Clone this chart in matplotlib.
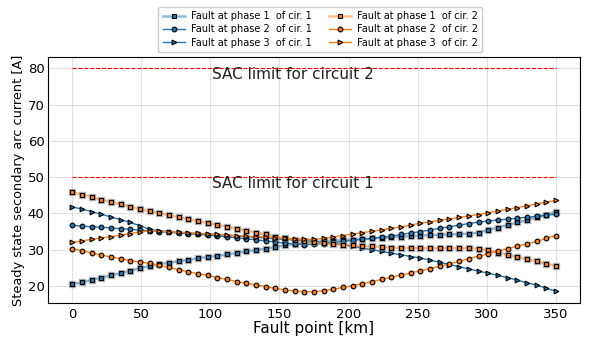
import numpy as np
import matplotlib
matplotlib.use("Agg")
import matplotlib.pyplot as plt
from matplotlib.legend_handler import HandlerTuple

fault_km = [0, 7, 14, 21, 28, 35, 42, 49, 56, 63, 70, 77, 84, 91, 98, 105, 112, 119, 126, 133,
            140, 147, 154, 161, 168, 175, 182, 189, 196, 203, 210, 217, 224, 231, 238, 245, 252,
            259, 266, 273, 280, 287, 294, 301, 308, 315, 322, 329, 336, 343, 350]

c1_p1 = [20.5, 21.0, 21.6, 22.3, 22.9, 23.5, 24.2, 24.9, 25.5, 26.0, 26.4, 26.8, 27.2, 27.6, 28.0,
         28.3, 28.7, 29.1, 29.5, 29.9, 30.3, 30.7, 31.2, 31.6, 31.9, 32.1, 32.3, 32.5, 32.7, 32.8,
         32.9, 33.1, 33.3, 33.4, 33.6, 33.7, 33.9, 34.0, 34.1, 34.2, 34.3, 34.4, 34.7, 35.4, 36.1,
         36.8, 37.5, 38.1, 38.9, 39.7, 40.4]
c1_p2 = [36.7, 36.5, 36.3, 36.2, 36.0, 35.8, 35.6, 35.4, 35.2, 35.0, 34.8, 34.6, 34.4, 34.2, 34.0,
         33.8, 33.5, 33.3, 33.0, 32.7, 32.4, 32.1, 31.8, 31.6, 31.4, 31.5, 31.7, 32.0, 32.3, 32.6,
         32.9, 33.1, 33.4, 33.7, 34.2, 34.6, 35.0, 35.4, 35.9, 36.3, 36.8, 37.2, 37.6, 37.9, 38.2,
         38.4, 38.7, 38.95, 39.2, 39.5, 39.8]
c1_p3 = [41.8, 41.2, 40.5, 39.8, 39.0, 38.3, 37.5, 36.6, 35.6, 35.2, 35.0, 34.8, 34.6, 34.45, 34.3,
         34.15, 34.0, 33.8, 33.6, 33.4, 33.2, 33.0, 32.8, 32.7, 32.5, 32.3, 32.1, 31.8, 31.4, 30.9,
         30.4, 30.0, 29.5, 29.0, 28.6, 28.1, 27.7, 27.1, 26.5, 25.9, 25.3, 24.7, 24.1, 23.5, 22.9,
         22.3, 21.6, 20.9, 20.2, 19.4, 18.5]
c2_p1 = [45.9, 45.2, 44.5, 43.8, 43.2, 42.5, 41.9, 41.2, 40.6, 40.1, 39.5, 39.0, 38.4, 37.9, 37.4,
         36.8, 36.3, 35.8, 35.2, 34.7, 34.2, 33.6, 33.2, 32.8, 32.4, 32.1, 31.8, 31.5, 31.3, 31.2,
         31.0, 30.9, 30.8, 30.6, 30.5, 30.5, 30.4, 30.4, 30.4, 30.4, 30.4, 30.4, 30.3, 29.8, 29.2,
         28.6, 28.0, 27.4, 26.8, 26.1, 25.5]
c2_p2 = [30.3, 29.7, 29.1, 28.5, 28.0, 27.5, 27.0, 26.6, 26.2, 25.7, 25.1, 24.5, 23.9, 23.4, 22.9,
         22.3, 21.8, 21.2, 20.7, 20.3, 19.8, 19.3, 18.9, 18.6, 18.4, 18.4, 18.7, 19.1, 19.6, 20.1,
         20.6, 21.2, 21.8, 22.4, 23.0, 23.6, 24.2, 24.8, 25.4, 26.1, 26.8, 27.5, 28.2, 28.9, 29.6,
         30.3, 31.0, 31.6, 32.3, 33.1, 33.9]
c2_p3 = [32.0, 32.4, 32.85, 33.25, 33.6, 34.0, 34.45, 34.9, 35.2, 35.1, 34.95, 34.8, 34.65, 34.5, 34.35,
         34.2, 34.05, 33.9, 33.75, 33.6, 33.45, 33.3, 33.15, 33.0, 32.9, 32.85, 33.1, 33.5, 33.9, 34.3,
         34.7, 35.1, 35.5, 35.9, 36.3, 36.8, 37.3, 37.7, 38.1, 38.5, 38.9, 39.3, 39.7, 40.2, 40.7,
         41.2, 41.6, 42.1, 42.6, 43.1, 43.6]

labels = ["Fault at phase 1  of cir. 1", "Fault at phase 2  of cir. 1", "Fault at phase 3  of cir. 1",
          "Fault at phase 1  of cir. 2", "Fault at phase 2  of cir. 2", "Fault at phase 3  of cir. 2"]
sac_limits = [50, 80]
sac_texts = ["SAC limit for circuit 1", "SAC limit for circuit 2"]

blue = "#1f77b4"
orange = "#ff7f0e"

fig = plt.figure(figsize=(6.03, 3.38), dpi=100)
ax = fig.add_axes([0.0796, 0.1036, 0.8824, 0.7274])

series = [(c1_p1, blue, "s", True), (c1_p2, blue, "o", False), (c1_p3, blue, ">", False),
          (c2_p1, orange, "s", True), (c2_p2, orange, "o", False), (c2_p3, orange, ">", False)]
handles = []
for (y, c, m, light) in series:
    if light:
        l1, = ax.plot(fault_km, y, color=c, lw=1.8, alpha=0.5)
        ax.plot(fault_km, y, ls="none", marker=m, ms=4.6, mfc="none", mec="gray",
                mew=1.0, alpha=0.6)
        l2, = ax.plot(fault_km, y, ls="none", marker=m, ms=3.4, mfc=c, mec="black", mew=0.8)
        handles.append((l1, l2))
    else:
        l, = ax.plot(fault_km, y, color=c, lw=1.0, marker=m, ms=3.4, mfc=c, mec="black", mew=0.8)
        handles.append(l)

for lim, txt in zip(sac_limits, sac_texts):
    ax.hlines(lim, 0, 350, colors="red", linestyles="--", lw=0.8, zorder=3)
    ax.text(101, lim + 0.4, txt, fontsize=11, va="top", ha="left", color="#222222")

ax.set_xticks([0, 50, 100, 150, 200, 250, 300, 350])
ax.set_yticks([20, 30, 40, 50, 60, 70, 80])
ax.set_xlim(-17.5, 367.5)
ax.set_ylim(15.3, 83.1)
ax.grid(True, color="#e0e0e0", lw=0.8)
ax.set_axisbelow(True)
ax.tick_params(axis="x", labelsize=9.5, pad=3.5, length=0)
ax.tick_params(axis="y", labelsize=9.5, pad=2.5, length=0)
ax.set_xlabel("Fault point [km]", fontsize=11, labelpad=0)
ax.set_ylabel("Steady state secondary arc current [A]", fontsize=9.3, labelpad=2)

leg = ax.legend(handles, labels, loc="lower center", bbox_to_anchor=(0.512, 1.0), ncol=2,
                fontsize=7, handler_map={tuple: HandlerTuple(ndivide=1)},
                handlelength=2.3, handletextpad=0.6, columnspacing=1.75, borderpad=0.45,
                labelspacing=0.35, framealpha=1.0, edgecolor="#cccccc")

fig.savefig("out.png", dpi=100)
